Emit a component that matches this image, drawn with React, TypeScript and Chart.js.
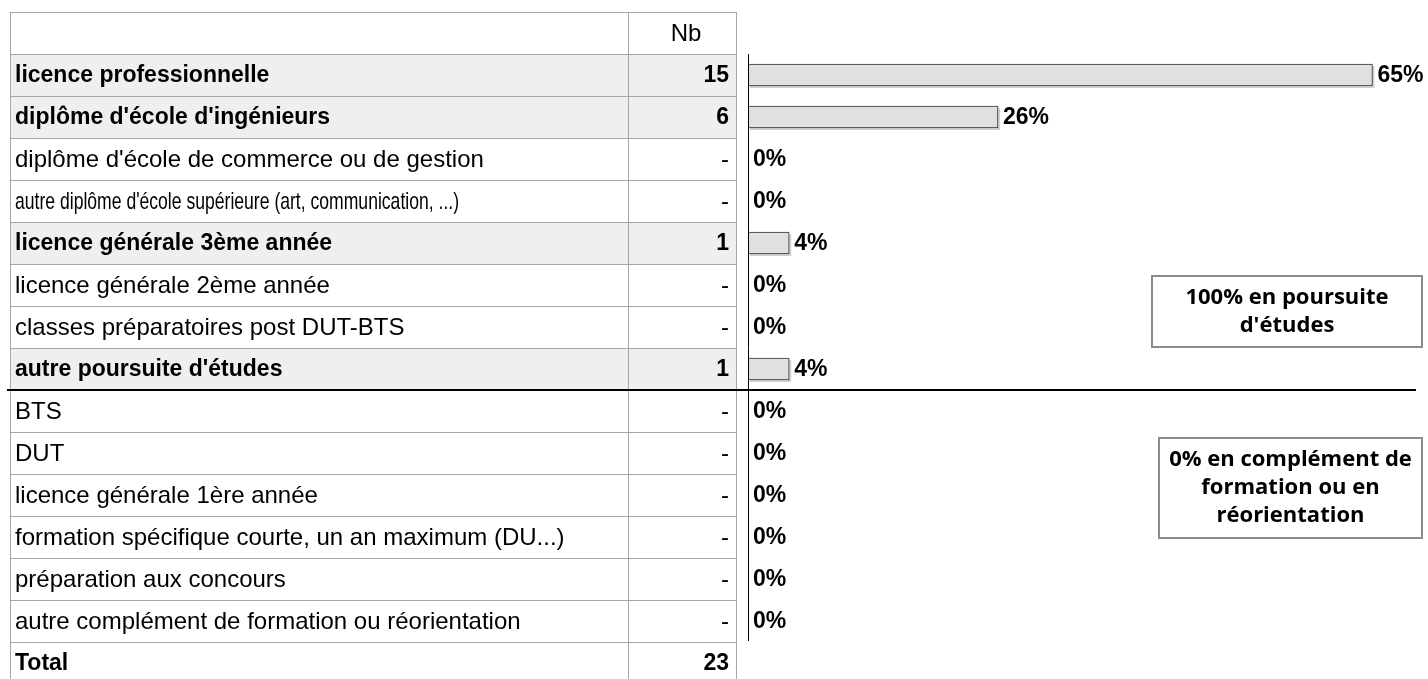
import React, { useEffect, useRef } from "react";
import { Chart, registerables } from "chart.js";

Chart.register(...registerables);

const CATEGORIES = [
  "licence professionnelle",
  "diplôme d'école d'ingénieurs",
  "diplôme d'école de commerce ou de gestion",
  "autre diplôme d'école supérieure (art, communication, ...)",
  "licence générale 3ème année",
  "licence générale 2ème année",
  "classes préparatoires post DUT-BTS",
  "autre poursuite d'études",
  "BTS",
  "DUT",
  "licence générale 1ère année",
  "formation spécifique courte, un an maximum (DU...)",
  "préparation aux concours",
  "autre complément de formation ou réorientation",
];
const COUNTS = [15, 6, 0, 0, 1, 0, 0, 1, 0, 0, 0, 0, 0, 0];
const PERCENTS = [65.2, 26.1, 0, 0, 4.3, 0, 0, 4.3, 0, 0, 0, 0, 0, 0];
const PERCENT_LABELS = ["65%", "26%", "0%", "0%", "4%", "0%", "0%", "4%", "0%", "0%", "0%", "0%", "0%", "0%"];
const HEADER_LABEL = "Nb";
const TOTAL_LABEL = "Total";
const TOTAL_VALUE = "23";
const GROUP_SPLIT_AFTER = 7;
const BOX1_LINES = ["100% en poursuite", "d'études"];
const BOX2_LINES = ["0% en complément de", "formation ou en", "réorientation"];

// style: labels squeezed to fit a given width (shrink-to-fit cells)
const LABEL_FIT_WIDTH: Record<number, number> = { 3: 444 };

const BOLD = 'bold 23px "Liberation Sans", Arial, sans-serif';
const REG = '24px "Liberation Sans", Arial, sans-serif';
const BOX_FONT = 'bold 22px "Open Sans", "Noto Sans", sans-serif';
const BOX_SQUEEZE = 1.0;

function squeezedText(ctx: any, text: string, x: number, y: number, sx: number) {
  ctx.save();
  ctx.translate(x, y);
  ctx.scale(sx, 1);
  ctx.fillText(text, 0, 0);
  ctx.restore();
}

const tablePlugin = {
  id: "tablePlugin",
  beforeDatasetsDraw(chart: any) {
    const ctx = chart.ctx;
    const y = chart.scales.y;
    const tableLeft = 10;
    const colSep = 628;
    const tableRight = 736;
    const rowH = y.getPixelForValue(1) - y.getPixelForValue(0);
    const firstTop = y.getPixelForValue(0) - rowH / 2;
    const lastBottom = y.getPixelForValue(CATEGORIES.length - 1) + rowH / 2;
    const headerTop = firstTop - rowH;
    const totalBottom = lastBottom + rowH;
    ctx.save();
    CATEGORIES.forEach((_, i) => {
      const yc = y.getPixelForValue(i);
      if (COUNTS[i] > 0) {
        ctx.fillStyle = "#efefef";
        ctx.fillRect(tableLeft, yc - rowH / 2, tableRight - tableLeft, rowH);
      }
    });
    ctx.strokeStyle = "#a6a6a6";
    ctx.lineWidth = 1;
    const hl = (yy: number) => {
      ctx.beginPath();
      ctx.moveTo(tableLeft, Math.round(yy) + 0.5);
      ctx.lineTo(tableRight, Math.round(yy) + 0.5);
      ctx.stroke();
    };
    hl(headerTop);
    for (let i = 0; i <= CATEGORIES.length; i++) {
      if (i === GROUP_SPLIT_AFTER + 1) continue;
      hl(firstTop + i * rowH);
    }
    [tableLeft, colSep, tableRight].forEach((xx) => {
      ctx.beginPath();
      ctx.moveTo(xx + 0.5, headerTop);
      ctx.lineTo(xx + 0.5, totalBottom);
      ctx.stroke();
    });
    ctx.fillStyle = "#000";
    ctx.textBaseline = "middle";
    ctx.font = REG;
    ctx.textAlign = "center";
    ctx.fillText(HEADER_LABEL, 686, headerTop + rowH / 2 + 1);
    CATEGORIES.forEach((label, i) => {
      const yc = y.getPixelForValue(i) + 1;
      const strong = COUNTS[i] > 0;
      ctx.font = strong ? BOLD : REG;
      ctx.textAlign = "left";
      const fit = LABEL_FIT_WIDTH[i];
      if (fit) {
        const w = ctx.measureText(label).width;
        squeezedText(ctx, label, tableLeft + 5, yc, Math.min(1, fit / w));
      } else {
        ctx.fillText(label, tableLeft + 5, yc);
      }
      ctx.textAlign = "right";
      ctx.fillText(strong ? String(COUNTS[i]) : "-", tableRight - 7, yc);
    });
    ctx.font = BOLD;
    ctx.textAlign = "left";
    ctx.fillText(TOTAL_LABEL, tableLeft + 5, lastBottom + rowH / 2 + 1);
    ctx.textAlign = "right";
    ctx.fillText(TOTAL_VALUE, tableRight - 7, lastBottom + rowH / 2 + 1);

    const meta = chart.getDatasetMeta(0);
    ctx.fillStyle = "#d0d0d0";
    meta.data.forEach((bar: any) => {
      const w = bar.x - bar.base;
      if (w > 0) ctx.fillRect(bar.base + 2, bar.y - bar.height / 2 + 2, w, bar.height);
    });
    ctx.restore();
  },
  afterDatasetsDraw(chart: any) {
    const ctx = chart.ctx;
    const y = chart.scales.y;
    const area = chart.chartArea;
    const rowH = y.getPixelForValue(1) - y.getPixelForValue(0);
    const firstTop = y.getPixelForValue(0) - rowH / 2;
    const lastBottom = y.getPixelForValue(CATEGORIES.length - 1) + rowH / 2;
    ctx.save();
    ctx.strokeStyle = "#000";
    ctx.lineWidth = 1;
    ctx.beginPath();
    ctx.moveTo(area.left + 0.5, firstTop);
    ctx.lineTo(area.left + 0.5, lastBottom - 1);
    ctx.stroke();
    const meta = chart.getDatasetMeta(0);
    ctx.fillStyle = "#000";
    ctx.font = BOLD;
    ctx.textAlign = "left";
    ctx.textBaseline = "middle";
    meta.data.forEach((bar: any, i: number) => {
      ctx.fillText(PERCENT_LABELS[i], Math.max(bar.x, bar.base) + 5, bar.y + 1);
    });
    const sepY = y.getPixelForValue(GROUP_SPLIT_AFTER) + rowH / 2;
    ctx.lineWidth = 2;
    ctx.beginPath();
    ctx.moveTo(7, sepY);
    ctx.lineTo(1416, sepY);
    ctx.stroke();
    const drawBox = (x0: number, y0: number, w: number, h: number, lines: string[]) => {
      ctx.fillStyle = "#fff";
      ctx.fillRect(x0, y0, w, h);
      ctx.strokeStyle = "#8c8c8c";
      ctx.lineWidth = 2;
      ctx.strokeRect(x0, y0, w, h);
      ctx.fillStyle = "#000";
      ctx.font = BOX_FONT;
      ctx.textAlign = "center";
      ctx.textBaseline = "middle";
      const lh = 28;
      const startY = y0 + h / 2 - ((lines.length - 1) * lh) / 2;
      lines.forEach((t, k) => squeezedText(ctx, t, x0 + w / 2, startY + k * lh, BOX_SQUEEZE));
    };
    drawBox(1152, 276, 270, 71, BOX1_LINES);
    drawBox(1159, 438, 263, 100, BOX2_LINES);
    ctx.restore();
  },
};

export default function App() {
  const ref = useRef<HTMLCanvasElement | null>(null);
  useEffect(() => {
    if (!ref.current) return;
    const chart = new Chart(ref.current, {
      type: "bar",
      data: {
        labels: CATEGORIES,
        datasets: [
          {
            data: PERCENTS,
            backgroundColor: "#e0e0e0",
            borderColor: "#333333",
            borderWidth: 1,
            borderSkipped: false,
            barThickness: 22,
          },
        ],
      },
      options: {
        indexAxis: "y",
        animation: false,
        responsive: false,
        devicePixelRatio: 1,
        layout: { padding: { left: 748, right: 0, top: 54, bottom: 37 } },
        plugins: { legend: { display: false }, tooltip: { enabled: false }, title: { display: false } },
        scales: {
          x: { display: false, min: 0, max: 71 },
          y: { display: false, offset: true },
        },
      },
      plugins: [tablePlugin],
    });
    return () => chart.destroy();
  }, []);
  return (
    <div style={{ position: "absolute", left: 0, top: 0, width: 1428, height: 679, background: "#fff" }}>
      <canvas ref={ref} width={1428} height={679} style={{ width: 1428, height: 679, display: "block" }} />
    </div>
  );
}
